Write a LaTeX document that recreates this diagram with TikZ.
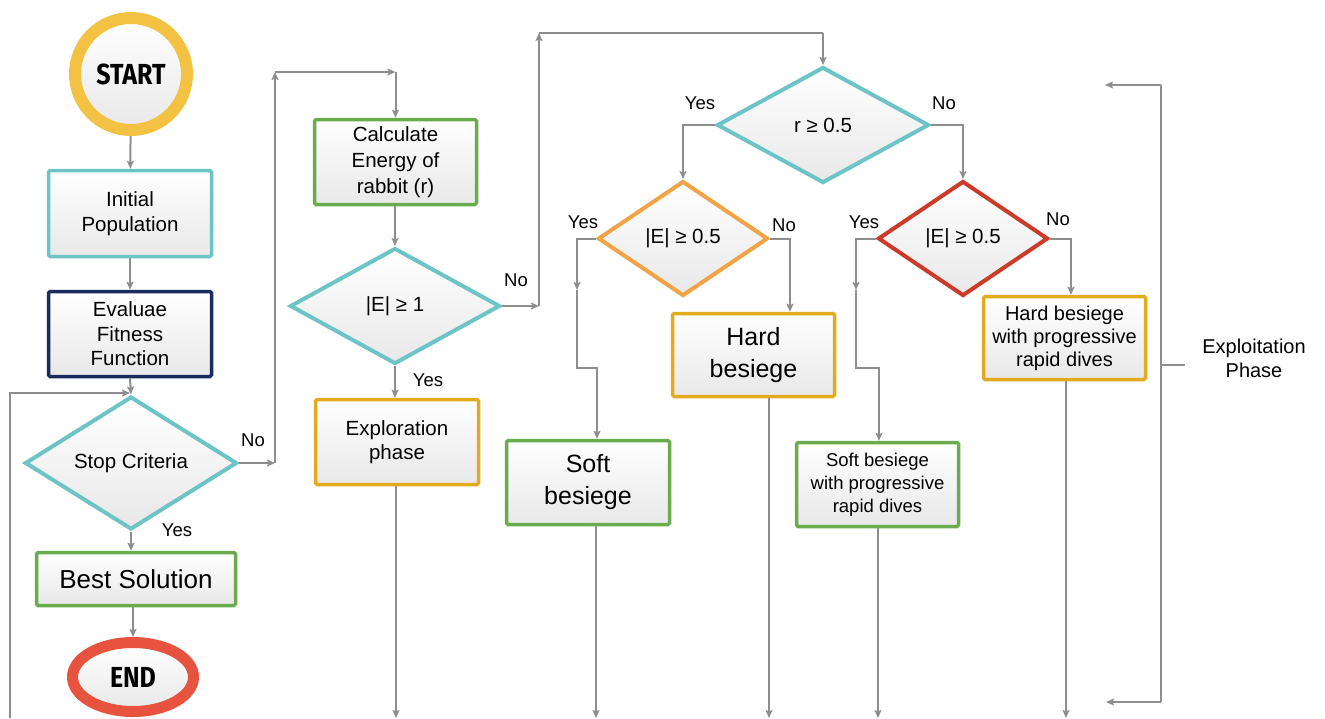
\documentclass[tikz,border=0pt]{standalone}
\usepackage{fontspec}
\setmainfont{Liberation Sans}
\newfontfamily\capfont[FakeStretch=0.86]{Fira Sans}
\usetikzlibrary{shapes.geometric,arrows.meta}

\definecolor{cyanc}{RGB}{108,196,198}
\definecolor{navyc}{RGB}{26,43,95}
\definecolor{greenc}{RGB}{104,172,76}
\definecolor{goldc}{RGB}{226,171,30}
\definecolor{orangec}{RGB}{242,164,68}
\definecolor{redc}{RGB}{204,58,42}
\definecolor{startc}{RGB}{243,194,66}
\definecolor{endc}{RGB}{232,83,63}
\definecolor{linec}{RGB}{142,142,142}

\newcommand\fsz[2]{\fontsize{#1}{#2}\selectfont}

\tikzset{
  shade/.style={top color=white, bottom color=black!9},
  box/.style={draw, shade, line width=3.5pt, rounded corners=1.5pt, align=center,
              inner sep=0pt, font=\fsz{20.5}{24.5}},
  dia/.style={diamond, draw, shade, line width=4pt, inner sep=0pt, align=center,
              font=\fsz{20.5}{24}},
  conn/.style={draw=linec, line width=2pt},
  arr/.style={conn, -{Stealth[length=8pt,width=7pt,inset=1.5pt]}},
  lbl/.style={font=\fsz{18.5}{22}, inner sep=0pt},
}

\begin{document}
\begin{tikzpicture}[x=1pt, y=-1pt]
\path[use as bounding box] (0,0) rectangle (1325,718);

% ---- left column: main loop ----
\node[circle, draw=startc, line width=12pt, shade, minimum size=112pt, inner sep=0pt,
      font=\capfont\bfseries\fsz{29}{30}] (start) at (131,74) {START};
\node[box, draw=cyanc, minimum width=163pt, minimum height=86pt] (init) at (130,213.5)
      {Initial\\Population};
\node[box, draw=navyc, minimum width=163pt, minimum height=85pt] (eval) at (130,334)
      {Evaluae\\Fitness\\Function};
\node[dia, draw=cyanc, minimum width=212pt, minimum height=114pt] (stop) at (131,463)
      {Stop Criteria};
\node[box, draw=greenc, minimum width=199pt, minimum height=53pt, font=\fsz{26}{30}]
      (best) at (136,579) {Best Solution};
\node[ellipse, draw=endc, line width=11pt, shade, minimum width=121pt, minimum height=69pt,
      inner sep=0pt, font=\capfont\bfseries\fsz{29}{30}] (end) at (133,677) {END};

% ---- second column ----
\node[box, draw=greenc, minimum width=162pt, minimum height=85pt, font=\fsz{20.5}{26}]
      (calc) at (395.5,162) {Calculate\\Energy of\\rabbit (r)};
\node[dia, draw=cyanc, minimum width=210pt, minimum height=116pt] (e1) at (395,306)
      {|E| ≥ 1};
\node[box, draw=goldc, minimum width=163pt, minimum height=85pt] (expl) at (397,442)
      {Exploration\\phase};

% ---- exploitation branches ----
\node[dia, draw=cyanc, minimum width=212pt, minimum height=116pt] (rd) at (823,125)
      {r ≥ 0.5};
\node[dia, draw=orangec, minimum width=170pt, minimum height=115pt] (od) at (683,238.5)
      {|E| ≥ 0.5};
\node[dia, draw=redc, minimum width=170pt, minimum height=115pt] (red) at (963,238.5)
      {|E| ≥ 0.5};
\node[box, draw=goldc, minimum width=162pt, minimum height=83pt, font=\fsz{25}{32}]
      (hard) at (753.5,355) {Hard\\besiege};
\node[box, draw=greenc, minimum width=163pt, minimum height=84pt, font=\fsz{25}{32}]
      (soft) at (588,482.5) {Soft\\besiege};
\node[box, draw=greenc, minimum width=162pt, minimum height=84pt, font=\fsz{18.5}{23}]
      (softp) at (877.5,484.5) {Soft besiege\\with progressive\\rapid dives};
\node[box, draw=goldc, minimum width=162pt, minimum height=83pt, font=\fsz{20}{23}]
      (hardp) at (1064.5,338) {Hard besiege\\with progressive\\rapid dives};

% ---- labels ----
\node[lbl] (lno1) at (253,440) {No};
\node[lbl] (lyes1) at (177,530) {Yes};
\node[lbl] (lyes2) at (428,380) {Yes};
\node[lbl] (lno2) at (516,280) {No};
\node[lbl] (lyes3) at (700,103) {Yes};
\node[lbl] (lno3) at (944,103) {No};
\node[lbl] (lyes4) at (583,222) {Yes};
\node[lbl] (lno4) at (784,225) {No};
\node[lbl] (lyes5) at (864,222) {Yes};
\node[lbl] (lno5) at (1058,219) {No};
\node[align=center, inner sep=0pt, font=\fsz{20}{24}] (expt) at (1254,358)
      {Exploitation\\Phase};

% ---- routing points ----
\coordinate (bot) at (0,718);
\coordinate (fb0) at (10,718);
\coordinate (fb1) at (10,393);
\coordinate (sc) at (275,72);
\coordinate (ec) at (539,33);
\coordinate (oy1) at (577,290);
\coordinate (oy2) at (577,368);
\coordinate (oy3) at (597,368);
\coordinate (on) at (790,0);
\coordinate (ry1) at (856,290);
\coordinate (ry2) at (856,368);
\coordinate (ry3) at (879,368);
\coordinate (rn) at (1071,0);
\coordinate (xo) at (396,0);
\coordinate (so) at (596,0);
\coordinate (ho) at (769,0);
\coordinate (spo) at (878,0);
\coordinate (hpo) at (1066,0);
\coordinate (bt) at (1161,85);
\coordinate (btl) at (1105,85);
\coordinate (bb) at (1161,702);
\coordinate (bbl) at (1106,702);
\coordinate (bm) at (1161,365);
\coordinate (tk) at (1185,365);

% ---- main loop connectors ----
\draw[arr] (start) -- (init);
\draw[arr] (init) -- (eval);
\draw[arr] (eval.south) -- (stop.north);
\draw[arr] (fb0) -- (fb1) -- (fb1 -| eval.south);
\draw[arr] (stop.south) -- (best.north -| stop.south);
\draw[arr] (best.south -| end.north) -- (end.north);

% ---- Stop Criteria: No ----
\draw[arr] (stop.east) -- (stop.east -| sc);
\draw[arr] (stop.east -| sc) -- (sc);
\draw[arr] (sc) -- (sc -| calc.north);
\draw[arr] (sc -| calc.north) -- (calc.north);
\draw[arr] (calc.south -| e1.north) -- (e1.north);
\draw[arr] (e1.south) -- (expl.north -| e1.south);

% ---- |E| >= 1: No ----
\draw[arr] (e1.east) -- (e1.east -| ec);
\draw[arr] (e1.east -| ec) -- (ec);
\draw[conn] (ec) -- (ec -| rd.north);
\draw[arr] (ec -| rd.north) -- (rd.north);

% ---- r >= 0.5 branches ----
\draw[arr] (rd.west) -| (od.north);
\draw[arr] (rd.east) -| (red.north);

\draw[arr] (od.west) -| (oy1);
\draw[arr] (oy1) -- (oy2) -- (oy3) -- (oy3 |- soft.north);
\draw[arr] (od.east) -| (on |- hard.north);

\draw[arr] (red.west) -| (ry1);
\draw[arr] (ry1) -- (ry2) -- (ry3) -- (ry3 |- softp.north);
\draw[arr] (red.east) -| (rn |- hardp.north);

% ---- outputs leaving downwards ----
\draw[arr] (xo |- expl.south) -- (xo |- bot);
\draw[arr] (so |- soft.south) -- (so |- bot);
\draw[arr] (ho |- hard.south) -- (ho |- bot);
\draw[arr] (spo |- softp.south) -- (spo |- bot);
\draw[arr] (hpo |- hardp.south) -- (hpo |- bot);

% ---- exploitation bracket ----
\draw[arr] (bt) -- (btl);
\draw[conn] (bt) -- (bb);
\draw[arr] (bb) -- (bbl);
\draw[conn] (bm) -- (tk);
\end{tikzpicture}
\end{document}
